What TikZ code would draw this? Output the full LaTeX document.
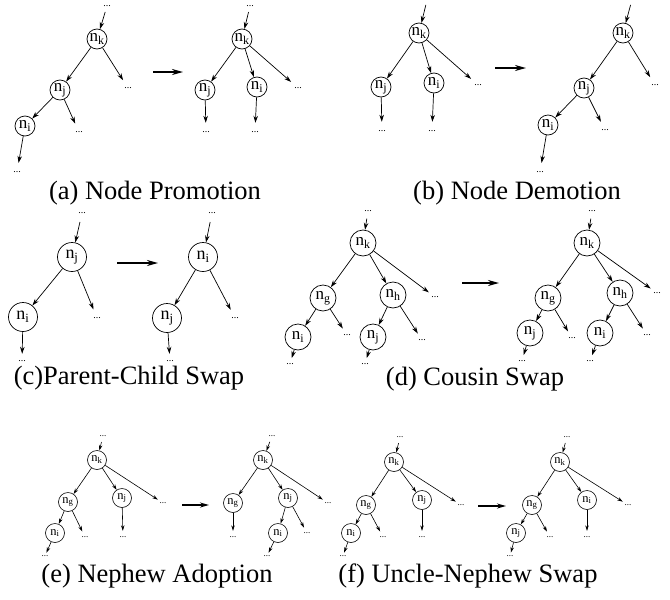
\documentclass[tikz,border=0pt]{standalone}
\usepackage{fontspec}
\setmainfont{Liberation Serif}
\usetikzlibrary{arrows.meta}
\newcommand\nsub[1]{n\textsubscript{#1}}

\begin{document}
\begin{tikzpicture}[x=1pt,y=-1pt,
  nd/.style={circle,draw,line width=0.7pt,inner sep=0pt,minimum size=20pt,
    font=\fontsize{17}{17}\selectfont},
  dt/.style={circle,inner sep=0pt,minimum size=18pt,font=\fontsize{10}{10}\selectfont},
  ed/.style={-{Stealth[length=7pt,width=4.5pt]},line width=0.7pt},
  move/.style={-{Stealth[length=11pt,width=6pt]},line width=1.8pt},
  captxt/.style={font=\fontsize{26.5}{30}\selectfont}]
\useasboundingbox (0,0) rectangle (670,600);

% ---------------- (a) Node Promotion ----------------
\node[dt,minimum size=12pt] (a1t) at (107,6) {...};
\node[nd] (a1k) at (97,39) {\nsub{k}};
\node[nd] (a1j) at (60,90) {\nsub{j}};
\node[nd] (a1i) at (25,126) {\nsub{i}};
\node[dt] (a1dk) at (128,88) {...};
\node[dt] (a1dj) at (79,132) {...};
\node[dt] (a1di) at (17,172) {...};
\draw[ed] (a1t) -- (a1k);
\draw[ed] (a1k) -- (a1j);
\draw[ed] (a1k) -- (a1dk);
\draw[ed] (a1j) -- (a1i);
\draw[ed] (a1j) -- (a1dj);
\draw[ed] (a1i) -- (a1di);
\coordinate (am0) at (153,72); \coordinate (am1) at (183,72);
\draw[move] (am0) -- (am1);
\node[dt,minimum size=12pt] (a2t) at (250,6) {...};
\node[nd] (a2k) at (242,39) {\nsub{k}};
\node[nd] (a2j) at (205,90) {\nsub{j}};
\node[nd] (a2i) at (257,87) {\nsub{i}};
\node[dt] (a2dk) at (298,88) {...};
\node[dt] (a2dj) at (206,132) {...};
\node[dt] (a2di) at (255,132) {...};
\draw[ed] (a2t) -- (a2k);
\draw[ed] (a2k) -- (a2j);
\draw[ed] (a2k) -- (a2i);
\draw[ed] (a2k) -- (a2dk);
\draw[ed] (a2j) -- (a2dj);
\draw[ed] (a2i) -- (a2di);
\node[captxt] (acap) at (155,193) {(a) Node Promotion};

% ---------------- (b) Node Demotion ----------------
\node[dt] (b1t) at (428,-4) {...};
\node[nd] (b1k) at (419,33) {\nsub{k}};
\node[nd] (b1j) at (381,87) {\nsub{j}};
\node[nd] (b1i) at (434,83) {\nsub{i}};
\node[dt] (b1dk) at (478,85) {...};
\node[dt] (b1dj) at (382,131) {...};
\node[dt] (b1di) at (432,131) {...};
\draw[ed] (b1t) -- (b1k);
\draw[ed] (b1k) -- (b1j);
\draw[ed] (b1k) -- (b1i);
\draw[ed] (b1k) -- (b1dk);
\draw[ed] (b1j) -- (b1dj);
\draw[ed] (b1i) -- (b1di);
\coordinate (bm0) at (495,68); \coordinate (bm1) at (526,68);
\draw[move] (bm0) -- (bm1);
\node[dt] (b2t) at (633,-4) {...};
\node[nd] (b2k) at (623,33) {\nsub{k}};
\node[nd] (b2j) at (584,88) {\nsub{j}};
\node[nd] (b2i) at (548,125) {\nsub{i}};
\node[dt] (b2dk) at (655,85) {...};
\node[dt] (b2dj) at (605,130) {...};
\node[dt] (b2di) at (540,172) {...};
\draw[ed] (b2t) -- (b2k);
\draw[ed] (b2k) -- (b2j);
\draw[ed] (b2k) -- (b2dk);
\draw[ed] (b2j) -- (b2i);
\draw[ed] (b2j) -- (b2dj);
\draw[ed] (b2i) -- (b2di);
\node[captxt] (bcap) at (517,193) {(b) Node Demotion};

% ---------------- (c) Parent-Child Swap ----------------
\begin{scope}[nd/.append style={minimum size=29pt,font=\fontsize{18}{18}\selectfont}]
\node[dt] (c1t) at (82,213) {...};
\node[nd] (c1j) at (72,257) {\nsub{j}};
\node[nd] (c1i) at (23,317) {\nsub{i}};
\node[dt] (c1dj) at (97,318) {...};
\node[dt,minimum size=14pt] (c1di) at (22,361) {...};
\draw[ed] (c1t) -- (c1j);
\draw[ed] (c1j) -- (c1i);
\draw[ed] (c1j) -- (c1dj);
\draw[ed] (c1i) -- (c1di);
\coordinate (cm0) at (117,263); \coordinate (cm1) at (158,263);
\draw[move] (cm0) -- (cm1);
\node[dt] (c2t) at (212,213) {...};
\node[nd] (c2i) at (203,257) {\nsub{i}};
\node[nd] (c2j) at (167,318) {\nsub{j}};
\node[dt] (c2di) at (235,318) {...};
\node[dt,minimum size=14pt] (c2dj) at (170,361) {...};
\draw[ed] (c2t) -- (c2i);
\draw[ed] (c2i) -- (c2j);
\draw[ed] (c2i) -- (c2di);
\draw[ed] (c2j) -- (c2dj);
\end{scope}
\node[captxt] (ccap) at (129,378) {(c)Parent-Child Swap};

% ---------------- (d) Cousin Swap ----------------
\begin{scope}[nd/.append style={minimum size=26pt},
              dt/.append style={minimum size=15pt}]
\node[dt] (d1t) at (368,211) {...};
\node[nd] (d1k) at (363,243) {\nsub{k}};
\node[nd] (d1g) at (323,298) {\nsub{g}};
\node[nd] (d1h) at (393,295) {\nsub{h}};
\node[dt] (d1dk) at (435,297) {...};
\node[nd] (d1i) at (298,337) {\nsub{i}};
\node[dt] (d1dg) at (347,335) {...};
\node[nd] (d1j) at (373,337) {\nsub{j}};
\node[dt] (d1dh) at (422,340) {...};
\node[dt,minimum size=12pt] (d1di) at (290,364) {...};
\node[dt,minimum size=12pt] (d1dj) at (365,364) {...};
\draw[ed] (d1t) -- (d1k);
\draw[ed] (d1k) -- (d1g);
\draw[ed] (d1k) -- (d1h);
\draw[ed] (d1k) -- (d1dk);
\draw[ed] (d1g) -- (d1i);
\draw[ed] (d1g) -- (d1dg);
\draw[ed] (d1h) -- (d1j);
\draw[ed] (d1h) -- (d1dh);
\draw[ed] (d1i) -- (d1di);
\draw[ed] (d1j) -- (d1dj);
\coordinate (dm0) at (462,283); \coordinate (dm1) at (499,283);
\draw[move] (dm0) -- (dm1);
\node[dt] (d2t) at (592,211) {...};
\node[nd] (d2k) at (587,243) {\nsub{k}};
\node[nd] (d2g) at (548,298) {\nsub{g}};
\node[nd] (d2h) at (620,293) {\nsub{h}};
\node[dt] (d2dk) at (657,293) {...};
\node[nd] (d2j) at (530,333) {\nsub{j}};
\node[dt] (d2dg) at (572,338) {...};
\node[nd] (d2i) at (600,333) {\nsub{i}};
\node[dt] (d2dh) at (647,335) {...};
\node[dt,minimum size=12pt] (d2dj) at (522,361) {...};
\node[dt,minimum size=12pt] (d2di) at (590,361) {...};
\draw[ed] (d2t) -- (d2k);
\draw[ed] (d2k) -- (d2g);
\draw[ed] (d2k) -- (d2h);
\draw[ed] (d2k) -- (d2dk);
\draw[ed] (d2g) -- (d2j);
\draw[ed] (d2g) -- (d2dg);
\draw[ed] (d2h) -- (d2i);
\draw[ed] (d2h) -- (d2dh);
\draw[ed] (d2j) -- (d2dj);
\draw[ed] (d2i) -- (d2di);
\end{scope}
\node[captxt] (dcap) at (475,379) {(d) Cousin Swap};

% ---------------- (e) Nephew Adoption ----------------
\begin{scope}[nd/.append style={minimum size=19pt,line width=0.6pt,font=\fontsize{12.5}{12.5}\selectfont},
              dt/.append style={minimum size=12pt,font=\fontsize{9}{9}\selectfont},
              ed/.append style={-{Stealth[length=5.5pt,width=3.5pt]},line width=0.6pt},
              move/.append style={-{Stealth[length=9pt,width=5pt]},line width=1.4pt}]
\node[dt] (e1t) at (103,436) {...};
\node[nd] (e1k) at (97,460) {\nsub{k}};
\node[nd] (e1g) at (68,502) {\nsub{g}};
\node[nd] (e1j) at (122,498) {\nsub{j}};
\node[dt] (e1dk) at (163,503) {...};
\node[nd] (e1i) at (55,533) {\nsub{i}};
\node[dt] (e1dg) at (85,537) {...};
\node[dt] (e1dj) at (123,537) {...};
\node[dt,minimum size=6pt] (e1di) at (45,556) {...};
\draw[ed] (e1t) -- (e1k);
\draw[ed] (e1k) -- (e1g);
\draw[ed] (e1k) -- (e1j);
\draw[ed] (e1k) -- (e1dk);
\draw[ed] (e1g) -- (e1i);
\draw[ed] (e1g) -- (e1dg);
\draw[ed] (e1j) -- (e1dj);
\draw[ed] (e1i) -- (e1di);
\coordinate (em0) at (182,505); \coordinate (em1) at (209,505);
\draw[move] (em0) -- (em1);
\node[dt] (e2t) at (272,436) {...};
\node[nd] (e2k) at (263,460) {\nsub{k}};
\node[nd] (e2g) at (233,503) {\nsub{g}};
\node[nd] (e2j) at (288,498) {\nsub{j}};
\node[dt] (e2dk) at (328,503) {...};
\node[dt] (e2dg) at (233,537) {...};
\node[nd] (e2i) at (278,533) {\nsub{i}};
\node[dt] (e2dj) at (307,533) {...};
\node[dt,minimum size=6pt] (e2di) at (267,556) {...};
\draw[ed] (e2t) -- (e2k);
\draw[ed] (e2k) -- (e2g);
\draw[ed] (e2k) -- (e2j);
\draw[ed] (e2k) -- (e2dk);
\draw[ed] (e2g) -- (e2dg);
\draw[ed] (e2j) -- (e2i);
\draw[ed] (e2j) -- (e2dj);
\draw[ed] (e2i) -- (e2di);

% ---------------- (f) Uncle-Nephew Swap ----------------
\node[dt] (f1t) at (400,437) {...};
\node[nd] (f1k) at (394,462) {\nsub{k}};
\node[nd] (f1g) at (366,505) {\nsub{g}};
\node[nd] (f1j) at (422,500) {\nsub{j}};
\node[dt] (f1dk) at (461,505) {...};
\node[nd] (f1i) at (351,533) {\nsub{i}};
\node[dt] (f1dg) at (383,537) {...};
\node[dt] (f1dj) at (422,537) {...};
\node[dt,minimum size=6pt] (f1di) at (343,556) {...};
\draw[ed] (f1t) -- (f1k);
\draw[ed] (f1k) -- (f1g);
\draw[ed] (f1k) -- (f1j);
\draw[ed] (f1k) -- (f1dk);
\draw[ed] (f1g) -- (f1i);
\draw[ed] (f1g) -- (f1dg);
\draw[ed] (f1j) -- (f1dj);
\draw[ed] (f1i) -- (f1di);
\coordinate (fm0) at (478,506); \coordinate (fm1) at (506,506);
\draw[move] (fm0) -- (fm1);
\node[dt] (f2t) at (567,437) {...};
\node[nd] (f2k) at (560,462) {\nsub{k}};
\node[nd] (f2g) at (532,505) {\nsub{g}};
\node[nd] (f2i) at (587,500) {\nsub{i}};
\node[dt] (f2dk) at (628,505) {...};
\node[nd] (f2j) at (516,533) {\nsub{j}};
\node[dt] (f2dg) at (550,537) {...};
\node[dt] (f2di) at (587,537) {...};
\node[dt,minimum size=6pt] (f2dj) at (510,556) {...};
\draw[ed] (f2t) -- (f2k);
\draw[ed] (f2k) -- (f2g);
\draw[ed] (f2k) -- (f2i);
\draw[ed] (f2k) -- (f2dk);
\draw[ed] (f2g) -- (f2j);
\draw[ed] (f2g) -- (f2dg);
\draw[ed] (f2i) -- (f2di);
\draw[ed] (f2j) -- (f2dj);
\end{scope}
\node[captxt] (ecap) at (157,576) {(e) Nephew Adoption};
\node[captxt] (fcap) at (468,576) {(f) Uncle-Nephew Swap};
\end{tikzpicture}
\end{document}
